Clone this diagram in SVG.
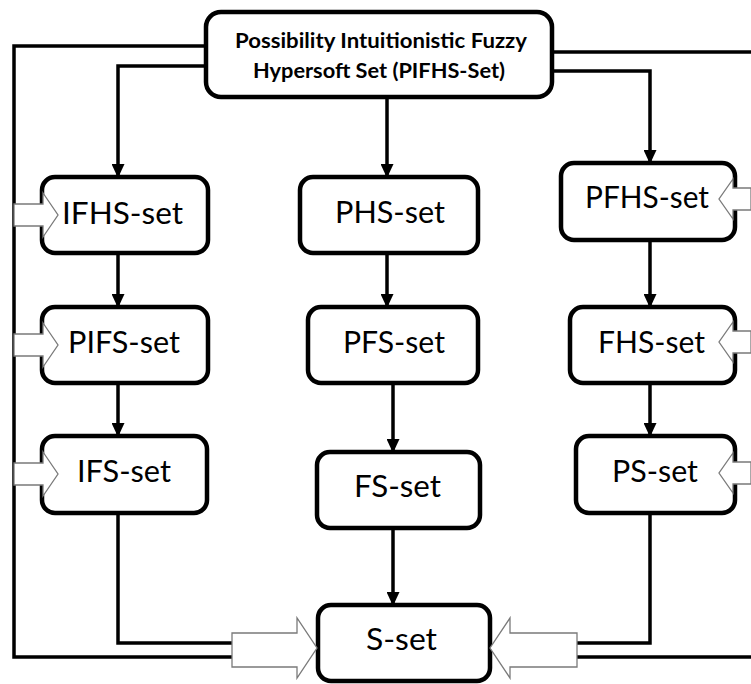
<svg xmlns="http://www.w3.org/2000/svg" width="751" height="684" viewBox="0 0 751 684">
  <style>
    .box { fill: #ffffff; stroke: #000000; stroke-width: 4.5; }
    .lbl { font-family: Lato, "Liberation Sans", sans-serif; font-size: 30px; fill: #000000; text-anchor: middle; }
    .ttl { font-family: Lato, "Liberation Sans", sans-serif; font-size: 20px; font-weight: bold; fill: #000000; text-anchor: middle; }
    .wire { fill: none; stroke: #000000; stroke-width: 3.5; stroke-linejoin: miter; }
    .arr { marker-end: url(#head); }
    .hollow { fill: #ffffff; stroke: #7a7a7a; stroke-width: 1.3; stroke-linejoin: miter; }
  </style>
  <defs>
    <marker id="head" markerUnits="userSpaceOnUse" markerWidth="14" markerHeight="13" viewBox="0 0 14 13" refX="13" refY="6.5" orient="auto">
      <path d="M0,0 L14,6.5 L0,13 Z" fill="#000000"/>
    </marker>
  </defs>

  <rect width="751" height="684" fill="#ffffff"/>

  <!-- nodes -->
  <g id="pifhs">
    <rect class="box" x="206" y="12" width="346" height="85" rx="15"/>
    <text class="ttl" x="381" y="48" textLength="292" lengthAdjust="spacingAndGlyphs">Possibility Intuitionistic Fuzzy</text>
    <text class="ttl" x="379" y="78" textLength="252" lengthAdjust="spacingAndGlyphs">Hypersoft Set (PIFHS-Set)</text>
  </g>
  <g id="ifhs">
    <rect class="box" x="42" y="177" width="166" height="76" rx="13"/>
    <text class="lbl" x="122.5" y="224" textLength="121" lengthAdjust="spacingAndGlyphs">IFHS-set</text>
  </g>
  <g id="phs">
    <rect class="box" x="300" y="177" width="178" height="76" rx="13"/>
    <text class="lbl" x="390" y="223" textLength="110" lengthAdjust="spacingAndGlyphs">PHS-set</text>
  </g>
  <g id="pfhs">
    <rect class="box" x="561" y="163" width="174" height="77" rx="13"/>
    <text class="lbl" x="647" y="208" textLength="124" lengthAdjust="spacingAndGlyphs">PFHS-set</text>
  </g>
  <g id="pifs">
    <rect class="box" x="42" y="307" width="166" height="76" rx="13"/>
    <text class="lbl" x="124" y="353" textLength="112" lengthAdjust="spacingAndGlyphs">PIFS-set</text>
  </g>
  <g id="pfs">
    <rect class="box" x="308" y="307" width="170" height="76" rx="13"/>
    <text class="lbl" x="394" y="353" textLength="102" lengthAdjust="spacingAndGlyphs">PFS-set</text>
  </g>
  <g id="fhs">
    <rect class="box" x="570" y="307" width="165" height="76" rx="13"/>
    <text class="lbl" x="651.5" y="353" textLength="107" lengthAdjust="spacingAndGlyphs">FHS-set</text>
  </g>
  <g id="ifs">
    <rect class="box" x="42" y="436" width="165" height="77" rx="13"/>
    <text class="lbl" x="124" y="482" textLength="94" lengthAdjust="spacingAndGlyphs">IFS-set</text>
  </g>
  <g id="fs">
    <rect class="box" x="317" y="452" width="163" height="76" rx="13"/>
    <text class="lbl" x="397.5" y="497" textLength="87" lengthAdjust="spacingAndGlyphs">FS-set</text>
  </g>
  <g id="ps">
    <rect class="box" x="576" y="436" width="159" height="77" rx="13"/>
    <text class="lbl" x="655" y="482" textLength="86" lengthAdjust="spacingAndGlyphs">PS-set</text>
  </g>
  <g id="s">
    <rect class="box" x="318" y="605" width="172" height="76" rx="13"/>
    <text class="lbl" x="401.5" y="650" textLength="71" lengthAdjust="spacingAndGlyphs">S-set</text>
  </g>

  <!-- connectors -->
  <g id="connectors">
    <!-- left column -->
    <path class="wire" d="M206,46 H14 V657 H232"/>
    <path class="wire arr" d="M206,66 H118 V177"/>
    <path class="wire arr" d="M118,253 V307"/>
    <path class="wire arr" d="M118,383 V436"/>
    <path class="wire" d="M118,513 V643 H232"/>
    <!-- middle column -->
    <path class="wire arr" d="M387,97 V177"/>
    <path class="wire arr" d="M387,253 V307"/>
    <path class="wire arr" d="M393,383 V452"/>
    <path class="wire arr" d="M393,528 V605"/>
    <!-- right column -->
    <path class="wire" d="M552,52 H751"/>
    <path class="wire" d="M577,657 H751"/>
    <path class="wire arr" d="M552,71 H650 V163"/>
    <path class="wire arr" d="M650,240 V307"/>
    <path class="wire arr" d="M650,383 V436"/>
    <path class="wire" d="M650,513 V643 H577"/>

    <!-- block arrows entering from the left -->
    <polygon class="hollow" points="14,204 43,204 43,193 58,215 43,237 43,226 14,226"/>
    <polygon class="hollow" points="14,334 43,334 43,323 58,345 43,367 43,356 14,356"/>
    <polygon class="hollow" points="14,463 43,463 43,452 58,474 43,496 43,485 14,485"/>
    <!-- block arrows entering from the right -->
    <polygon class="hollow" points="751,188 733,188 733,179 719,199 733,219 733,210 751,210"/>
    <polygon class="hollow" points="751,331 733,331 733,322 719,342 733,362 733,353 751,353"/>
    <polygon class="hollow" points="751,462 733,462 733,453 719,473 733,493 733,484 751,484"/>
    <!-- block arrows into S-set -->
    <polygon class="hollow" points="232,633 297,633 297,618 317,648 297,678 297,667 232,667"/>
    <polygon class="hollow" points="577,633 510,633 510,618 490,648 510,678 510,667 577,667"/>
  </g>
</svg>
